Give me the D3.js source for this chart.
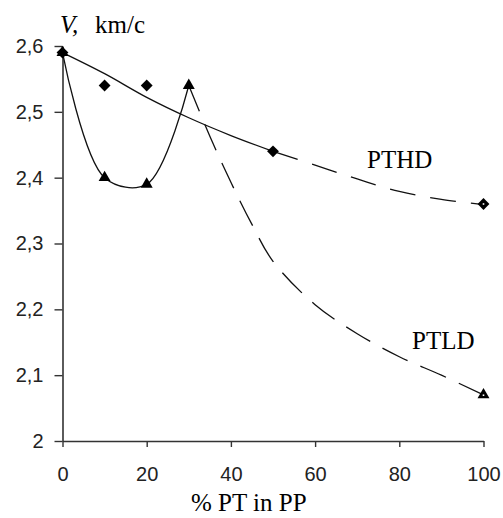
<!DOCTYPE html>
<html><head><meta charset="utf-8">
<script src="https://cdn.jsdelivr.net/npm/d3@7"></script>
<style>
html,body{margin:0;padding:0;background:#fff;}
svg{display:block;}
</style></head>
<body>
<svg id="chart" width="503" height="518"></svg>
<script>
// ---- data ----
const xTicks = [0, 20, 40, 60, 80, 100];
const yTicks = [2, 2.1, 2.2, 2.3, 2.4, 2.5, 2.6];
const pthdX = [0, 10, 20, 50, 100];
const pthdV = [2.59, 2.54, 2.54, 2.44, 2.36];
const ptldX = [0, 10, 20, 30, 100];
const ptldV = [2.59, 2.40, 2.39, 2.54, 2.07];
// fitted curve (PTHD)
const pthdFitX = [0, 10, 20, 30, 40, 50, 60, 70, 80, 90, 100];
const pthdFitV = [2.59, 2.558, 2.522, 2.491, 2.464, 2.44, 2.419, 2.398, 2.379, 2.367, 2.359];
// dashed tail of PTLD
const ptldTailX = [30, 35, 40, 45, 50, 60, 70, 80, 90, 100];
const ptldTailV = [2.54, 2.463, 2.393, 2.329, 2.273, 2.207, 2.163, 2.128, 2.100, 2.07];

const svg = d3.select("#chart");
const x = d3.scaleLinear().domain([0, 100]).range([62.5, 483.5]);
const y = d3.scaleLinear().domain([2, 2.6]).range([441, 46]);
const fmt = d => String(d).replace(".", ",");

// axes
const xAxis = svg.append("g").attr("transform", "translate(0,441)")
  .call(d3.axisBottom(x).tickValues(xTicks).tickSize(6).tickPadding(21).tickSizeOuter(0).tickFormat(fmt));
const yAxis = svg.append("g").attr("transform", "translate(62.5,0)")
  .call(d3.axisLeft(y).tickValues(yTicks).tickSize(8).tickPadding(11).tickSizeOuter(0).tickFormat(fmt));
[xAxis, yAxis].forEach(a => {
  a.selectAll("path.domain").attr("stroke", "#333").attr("stroke-width", 1.6);
  a.selectAll(".tick line").attr("stroke", "#333").attr("stroke-width", 1.4);
  a.selectAll("text").attr("font-family", "'Liberation Sans', Arial, sans-serif")
    .attr("font-size", 20).attr("fill", "#222");
});
xAxis.selectAll("text").attr("dy", null).attr("y", 40);

const line = d3.line().x(d => x(d[0])).y(d => y(d[1])).curve(d3.curveCatmullRom);
const zip = (a, b) => a.map((v, i) => [v, b[i]]);
const fit = zip(pthdFitX, pthdFitV);
const ptl = zip(ptldX, ptldV);
const tail = zip(ptldTailX, ptldTailV);

const lineStyle = p => p.attr("fill", "none").attr("stroke", "#111").attr("stroke-width", 1.3);
svg.append("path").attr("d", line(fit.slice(0, 6))).call(lineStyle);
svg.append("path").attr("d", line(fit.slice(5))).call(lineStyle).attr("stroke-dasharray", "26,15");
svg.append("path").attr("d", line(ptl.slice(0, 4))).call(lineStyle);
svg.append("path").attr("d", line(tail)).call(lineStyle).attr("stroke-dasharray", "28,14");

// markers
const diamond = d3.symbol().type(d3.symbolSquare).size(70)();
const tri = d3.symbol().type(d3.symbolTriangle).size(62)();
ptl.forEach((d, i) => {
  const g = svg.append("g").attr("transform", `translate(${x(d[0])},${y(d[1])})`);
  g.append("path").attr("d", tri).attr("fill", "#000");
  if (i === ptl.length - 1) g.append("rect").attr("x", -0.8).attr("y", -0.5).attr("width", 1.6).attr("height", 1.6).attr("fill", "#fff");
});
zip(pthdX, pthdV).forEach((d, i) => {
  const g = svg.append("g").attr("transform", `translate(${x(d[0])},${y(d[1])})`);
  g.append("path").attr("d", diamond).attr("transform", "rotate(45)").attr("fill", "#000");
  if (i === pthdX.length - 1) g.append("rect").attr("x", -0.8).attr("y", -0.8).attr("width", 1.6).attr("height", 1.6).attr("fill", "#fff");
});

// texts
const serif = "'Liberation Serif', 'Times New Roman', serif";
svg.append("text").attr("x", 60).attr("y", 33).attr("font-family", serif).attr("font-size", 25)
  .attr("font-style", "italic").text("V,");
svg.append("text").attr("x", 95).attr("y", 33).attr("font-family", serif).attr("font-size", 25).text("km/c");
svg.append("text").attr("x", 191).attr("y", 511).attr("font-family", serif).attr("font-size", 25).text("% PT in PP");
svg.append("text").attr("x", 367).attr("y", 168).attr("font-family", serif).attr("font-size", 25).text("PTHD");
svg.append("text").attr("x", 412).attr("y", 349).attr("font-family", serif).attr("font-size", 25).text("PTLD");
</script>
</body></html>
